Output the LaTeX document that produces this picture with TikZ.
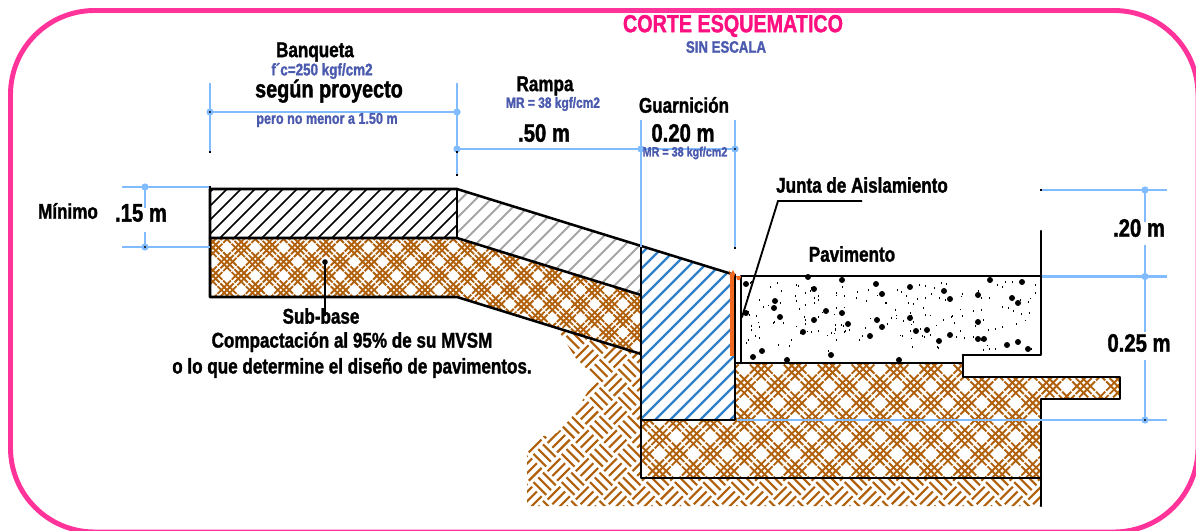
\documentclass[tikz,border=0pt]{standalone}
\usepackage{fontspec}
\setmainfont[FakeStretch=0.8,BoldFeatures={FakeBold=1.4}]{Liberation Sans}
\definecolor{dimblue}{HTML}{80BCFF}
\definecolor{txtblue}{HTML}{4A5AAE}
\definecolor{titlepink}{HTML}{FF1080}
\definecolor{framepink}{HTML}{FF3399}
\definecolor{soil}{HTML}{B0600A}
\definecolor{hatchblue}{HTML}{2F80C8}
\definecolor{hatchgray}{HTML}{A6A6A6}
\definecolor{joint}{HTML}{F26A21}
% crossing bundles: ox oy spacing half-range
\newcommand\crossweave[4]{%
  \begin{scope}[shift={(#1,#2)},rotate=45,soilline]
  \pgfmathsetmacro\ss{#3}\pgfmathsetmacro\dd{0.2*\ss}\pgfmathsetmacro\aa{0.47*\ss}
  \foreach \I in {-#4,...,#4}{\foreach \J in {-#4,...,#4}{
    \pgfmathsetmacro\mx{\I*\ss}\pgfmathsetmacro\my{\J*\ss}
    \foreach \t in {-1,0,1}{
      \draw (\mx-\aa,\my+\t*\dd) -- (\mx+\aa,\my+\t*\dd);
      \draw (\mx+\t*\dd,\my-\aa) -- (\mx+\t*\dd,\my+\aa);
    }}}
  \end{scope}}
\tikzset{
  x=0.75pt,y=-0.75pt,
  soilline/.style={draw=soil,line width=1.4pt},
  outline/.style={draw=black,line width=1.9pt,line cap=round,line join=round},
  dimline/.style={draw=dimblue,line width=1.9pt},
  dimdot/.style={fill=dimblue,draw=none},
  tick/.style={fill=black,draw=none},
  lab/.style={font=\bfseries\fontsize{16}{17}\selectfont,inner sep=0pt,text=black},
  val/.style={font=\bfseries\fontsize{19}{20}\selectfont,inner sep=0pt,text=black},
  note/.style={font=\bfseries\fontsize{11.8}{12}\selectfont,inner sep=0pt,text=txtblue},
}
\begin{document}
\begin{tikzpicture}
\useasboundingbox (0,0) rectangle (1196,531);
\clip (0,0) rectangle (1196,531);
\fill[white] (0,0) rectangle (1196,531);
% frame
\draw[framepink,line width=3.7pt,rounded corners=63pt] (10.5,10.5) rectangle (1198,532);

% weave soil below
\begin{scope}
\clip (527,506) -- (527,447) -- (540,437) -- (557,433) -- (572,417) -- (587,393) -- (595,378) -- (575,357) -- (557,328) -- (641,354) -- (641,478) -- (1041,478) -- (1041,506) -- cycle;
\begin{scope}[shift={(785,413)},rotate=45]
\foreach \I in {-15,...,15}{\foreach \J in {-15,...,15}{
  \pgfmathsetmacro\mx{\I*20}\pgfmathsetmacro\my{\J*20}
  \pgfmathparse{int(mod(\I+\J+100,2))}
  \ifnum\pgfmathresult=0
    \foreach \t in {-6.7,0,6.7}{\draw[soil,line width=1.6pt] (\mx-9,\my+\t) -- (\mx+9,\my+\t);}
  \else
    \foreach \t in {-6.7,0,6.7}{\draw[soil,line width=1.6pt] (\mx+\t,\my-9) -- (\mx+\t,\my+9);}
  \fi
}}
\end{scope}
\end{scope}

% sub-base under sidewalk and ramp
\begin{scope}
\clip (210,238) -- (457,238) -- (641,295) -- (641,354) -- (457,297) -- (210,297) -- cycle;
\crossweave{425}{290}{20}{13}
\end{scope}
% lower base
\begin{scope}
\clip (735,363) -- (963,363) -- (963,377) -- (1120,377) -- (1120,399) -- (1041,399) -- (1041,478) -- (641,478) -- (641,420) -- (735,420) -- cycle;
\crossweave{880}{420}{24}{13}
\end{scope}

% sidewalk hatch
\begin{scope}
\clip (210,189) rectangle (457,238);
\foreach \c in {220,234,...,720}{\draw[black,line width=1.3pt] (\c-189,189) -- (\c-238,238);}
\end{scope}
% ramp hatch
\begin{scope}
\clip (457,189) -- (641,247) -- (641,295) -- (457,238) -- cycle;
\foreach \c in {660,675,...,950}{\draw[hatchgray,line width=1.4pt] (\c-189,189) -- (\c-300,300);}
\end{scope}
% curb hatch
\begin{scope}
\clip (641,247) -- (735,275) -- (735,420) -- (641,420) -- cycle;
\foreach \c in {880,895,...,1170}{\draw[hatchblue,line width=1.7pt] (\c-240,240) -- (\c-420,420);}
\end{scope}

% outlines
\draw[outline] (210,189) -- (457,189) -- (735,275);
\draw[outline] (210,189) -- (210,297) -- (457,297) -- (641,354);
\draw[outline] (210,238) -- (457,238) -- (641,295);
\draw[outline] (457,189) -- (457,238);
\draw[outline] (641,247) -- (641,478) -- (1041,478);
\draw[outline] (641,420) -- (735,420) -- (735,275);
\draw[outline] (735,363) -- (963,363) -- (963,377) -- (1120,377) -- (1120,399) -- (1041,399) -- (1041,506);
\draw[outline] (963,355) -- (1041,355) -- (1041,231);
\draw[outline] (963,355) -- (963,363);
\draw[outline] (741,363) -- (741,276) -- (1041,276);

% pavement aggregate
\pgfmathsetseed{11}
\foreach \n in {1,...,170}{
  \pgfmathsetmacro\rx{746+rnd*292}\pgfmathsetmacro\ry{281+rnd*70}
  \fill[black] (\rx,\ry) rectangle ++(1,1.9);
}
\foreach \p/\q in {842/280,814/289,876/284,910/287,882/294,944/291,950/299,978/295,990/280,1022/282,1012/298,1018/303,826/311,842/313,814/320,848/324,877/320,882/327,910/318,803/332,870/336,916/331,927/330,950/335,939/341,978/322,978/339,984/339,1007/345,1018/342,1028/349,831/355,899/360,746/284,775/301,774/308,746/313,780/317,762/351,753/357,787/360,808/277}{
  \fill[black] (\p,\q) circle[radius=3];
}

% joint
\fill[joint] (730,273) rectangle (734,356);
\fill[joint] (729,270) -- (731,274) -- (733,270) -- (735,274) -- (734,277) -- (730,277) -- cycle;
\fill[joint] (736,276) -- (741,276) -- (740,280) -- (737,280) -- cycle;

% leaders
\draw[black,line width=1.4pt] (862,201) -- (778,201) -- (742,317);
\fill[black] (742,317) circle[radius=1.2];
\draw[black,line width=1.4pt] (325,262) -- (325,316);
\fill[black] (325,262) circle[radius=2.8];

% dimension lines
\draw[dimline] (210,83) -- (210,152);
\draw[dimline] (457,83) -- (457,175);
\draw[dimline] (210,112) -- (457,112);
\draw[dimline] (457,149) -- (735,149);
\draw[dimline] (641,120) -- (641,247);
\draw[dimline] (735,120) -- (735,247);
\draw[dimline] (122,187) -- (210,187);
\draw[dimline] (122,247) -- (210,247);
\draw[dimline] (145,187) -- (145,208);
\draw[dimline] (145,232) -- (145,247);
\draw[dimline] (1042,190) -- (1167,190);
\draw[dimline] (1042,276.5) -- (1167,276.5);
\draw[dimline] (737,420) -- (1167,420);
\draw[dimline] (1145,190) -- (1145,222);
\draw[dimline] (1145,245) -- (1145,332);
\draw[dimline] (1145,360) -- (1145,420);
\foreach \p/\q in {210/112,457/112,457/149,641/149,735/149,145/187,145/247,1145/190,1145/276.5,1145/420}{
  \fill[dimdot] (\p,\q) circle[radius=3.6];
}
\foreach \p/\q in {210/112,735/149,145/247,1145/420}{
  \fill[black] (\p,\q) circle[radius=1.1];
}
\foreach \p/\q in {210/152,457/152,457/175,735/247.5,1041/190,210/187}{
  \fill[tick] (\p-1.2,\q-1) rectangle (\p+1.2,\q+1);
}

% text
\node[font=\bfseries\fontsize{18.5}{20}\selectfont,inner sep=0pt,text=titlepink] (title) at (733,26) {CORTE ESQUEMATICO};
\node[font=\bfseries\fontsize{12.4}{13}\selectfont,inner sep=0pt,text=txtblue] (scale) at (726,47) {SIN ESCALA};
\node[lab] (banqueta) at (315,52) {Banqueta};
\node[note,font=\bfseries\fontsize{12.6}{13}\selectfont] (fc) at (322,71) {f´c=250 kgf/cm2};
\node[font=\bfseries\fontsize{18.6}{19}\selectfont,inner sep=0pt] (proy) at (329,91) {según proyecto};
\node[note] (pero) at (327,120) {pero no menor a 1.50 m};
\node[lab] (rampa) at (545,86) {Rampa};
\node[note,font=\bfseries\fontsize{11.2}{12}\selectfont] (mr1) at (553,104) {MR = 38 kgf/cm2};
\node[val] (d50) at (544,133) {.50 m};
\node[lab] (guar) at (684,105) {Guarnición};
\node[val] (d20a) at (683,133) {0.20 m};
\node[note,font=\bfseries\fontsize{10.1}{11}\selectfont] (mr2) at (685,153) {MR = 38 kgf/cm2};
\node[lab] (minimo) at (68,211) {Mínimo};
\node[val] (d15) at (141,213) {.15 m};
\node[lab] (junta) at (862,185) {Junta de Aislamiento};
\node[lab] (pav) at (852,254) {Pavimento};
\node[val] (d20b) at (1139,228) {.20 m};
\node[val] (d25) at (1139,343) {0.25 m};
\node[lab] (sub) at (321,316) {Sub-base};
\node[lab] (comp) at (352,342) {Compactación al 95\% de su MVSM};
\node[lab] (det) at (352,368) {o lo que determine el diseño de pavimentos.};
\end{tikzpicture}
\end{document}
